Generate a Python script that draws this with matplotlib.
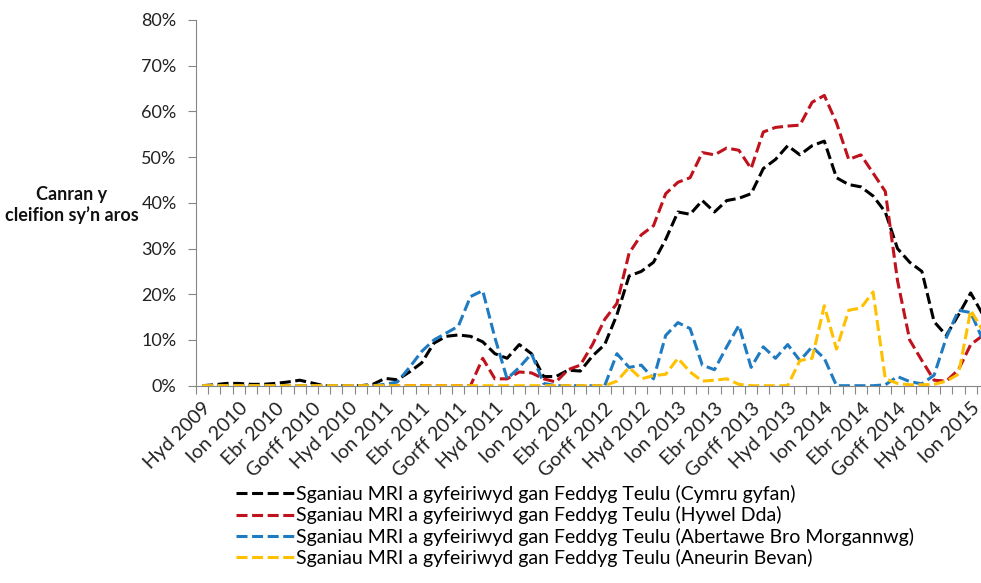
import numpy as np
import matplotlib.pyplot as plt

plt.rcParams['font.family'] = ['Lato', 'DejaVu Sans']

# monthly categories, Oct 2009 .. Feb 2015
welsh_months = ["Ion", "Chwef", "Maw", "Ebr", "Mai", "Meh",
                "Gorff", "Awst", "Medi", "Hyd", "Tach", "Rhag"]
months = [f"{welsh_months[(9 + k) % 12]} {2009 + (9 + k) // 12}" for k in range(65)]

cymru = [0, 0.2, 0.5, 0.5, 0.3, 0.3, 0.5, 0.8, 1.2, 0.6,
         0, 0, 0, 0, 0.3, 1.6, 1.3, 3.0, 5.0, 9.3,
         10.8, 11.1, 10.8, 9.6, 7.0, 6.0, 9.0, 7.0, 2.0, 2.0,
         3.4, 3.2, 6.5, 9.0, 15.5, 24.0, 25.0, 27.0, 32.0, 38.0,
         37.5, 40.5, 38.0, 40.5, 41.0, 42.0, 47.5, 49.5, 52.5, 50.5,
         52.5, 53.5, 45.5, 44.0, 43.5, 41.5, 38.0, 30.0, 27.0, 25.0,
         14.0, 11.0, 15.5, 20.3, 15.5]

hywel_dda = [0, 0, 0, 0, 0, 0, 0, 0, 0, 0,
             0, 0, 0, 0, 0, 0, 0, 0, 0, 0,
             0, 0, 0, 6.0, 1.5, 1.5, 3.0, 2.8, 1.5, 0.8,
             3.5, 4.5, 9.0, 14.5, 18.0, 29.0, 33.0, 35.0, 42.0, 44.5,
             45.5, 51.0, 50.5, 52.0, 51.5, 47.5, 55.5, 56.5, 56.8, 57.0,
             62.0, 63.5, 57.5, 49.5, 50.5, 46.5, 42.5, 23.0, 10.0, 5.5,
             1.2, 1.0, 3.5, 9.0, 11.0]

abm = [0, 0, 0, 0, 0, 0, 0, 0, 0, 0,
       0, 0, 0, 0, 0, 0.3, 0.8, 4.0, 7.5, 10.0,
       11.5, 13.0, 19.5, 20.8, 10.5, 1.5, 4.0, 7.0, 0.5, 0,
       0, 0, 0, 0, 7.0, 4.0, 4.5, 1.5, 11.0, 13.8,
       12.5, 4.5, 3.5, 8.5, 13.2, 4.0, 8.5, 6.0, 9.0, 5.5,
       8.5, 6.0, 0, 0, 0, 0, 0.2, 2.0, 0.9, 0.4,
       2.3, 10.5, 16.5, 16.0, 10.0]

aneurin_bevan = [0, 0, 0, 0, 0, 0, 0, 0, 0, 0,
                 0, 0, 0, 0, 0, 0, 0, 0, 0, 0,
                 0, 0, 0, 0, 0, 0, 0, 0, 0, 0,
                 0, 0, 0, 0, 1.0, 4.0, 1.5, 2.2, 2.5, 6.0,
                 3.0, 1.0, 1.2, 1.5, 0.3, 0, 0, 0, 0, 5.5,
                 6.0, 17.5, 8.0, 16.5, 17.0, 20.5, 1.5, 0.5, 0.2, 0.2,
                 0.3, 1.0, 2.5, 16.5, 12.0]

series = [
    (cymru, "#000000", "Sganiau MRI a gyfeiriwyd gan Feddyg Teulu (Cymru gyfan)"),
    (hywel_dda, "#C0121C", "Sganiau MRI a gyfeiriwyd gan Feddyg Teulu (Hywel Dda)"),
    (abm, "#1F7BC1", "Sganiau MRI a gyfeiriwyd gan Feddyg Teulu (Abertawe Bro Morgannwg)"),
    (aneurin_bevan, "#FFC000", "Sganiau MRI a gyfeiriwyd gan Feddyg Teulu (Aneurin Bevan)"),
]

fig = plt.figure(figsize=(9.81, 5.83), dpi=100)
# axes runs slightly past the right edge, as in the cropped original
ax = fig.add_axes([196 / 981, 197.3 / 583, 793 / 981, 365.7 / 583])

x = np.arange(len(months))
for vals, col, lab in series:
    ax.plot(x, np.array(vals) / 100, color=col, lw=2.2, ls=(0, (3.6, 1.5)), label=lab)

ax.set_xlim(-0.5, len(months) - 0.5)
ax.set_ylim(0, 0.8)
ax.set_yticks(np.arange(0, 0.81, 0.1))
ax.set_yticklabels([f"{int(round(v * 100))}%" for v in np.arange(0, 0.81, 0.1)],
                   fontsize=13, color="#222222")

ax.set_xticks(x[::3])
ax.set_xticklabels(months[::3], rotation=45, ha="right", va="top",
                   rotation_mode="anchor", fontsize=14, color="#222222")
ax.set_xticks(np.arange(-0.5, len(months), 1), minor=True)
ax.tick_params(axis="x", which="major", length=0, pad=10)
ax.tick_params(axis="x", which="minor", length=6, color="#868686", width=0.8)
ax.tick_params(axis="y", length=6, color="#868686", width=0.8, pad=8)

for s in ["top", "right"]:
    ax.spines[s].set_visible(False)
for s in ["left", "bottom"]:
    ax.spines[s].set_color("#868686")
    ax.spines[s].set_linewidth(0.8)

fig.text(72 / 981, 1 - 205 / 583, "Canran y\ncleifion sy\u2019n aros", ha="center", va="center",
         fontsize=13, fontweight="bold", color="#111111", linespacing=1.25)

ax.legend(loc="upper left", bbox_to_anchor=(236 / 981, 1 - 485 / 583),
          bbox_transform=fig.transFigure, frameon=False, fontsize=14,
          handlelength=3.0, handletextpad=0.1, labelspacing=0.17,
          borderpad=0, borderaxespad=0)

fig.savefig("out.png", dpi=100)
